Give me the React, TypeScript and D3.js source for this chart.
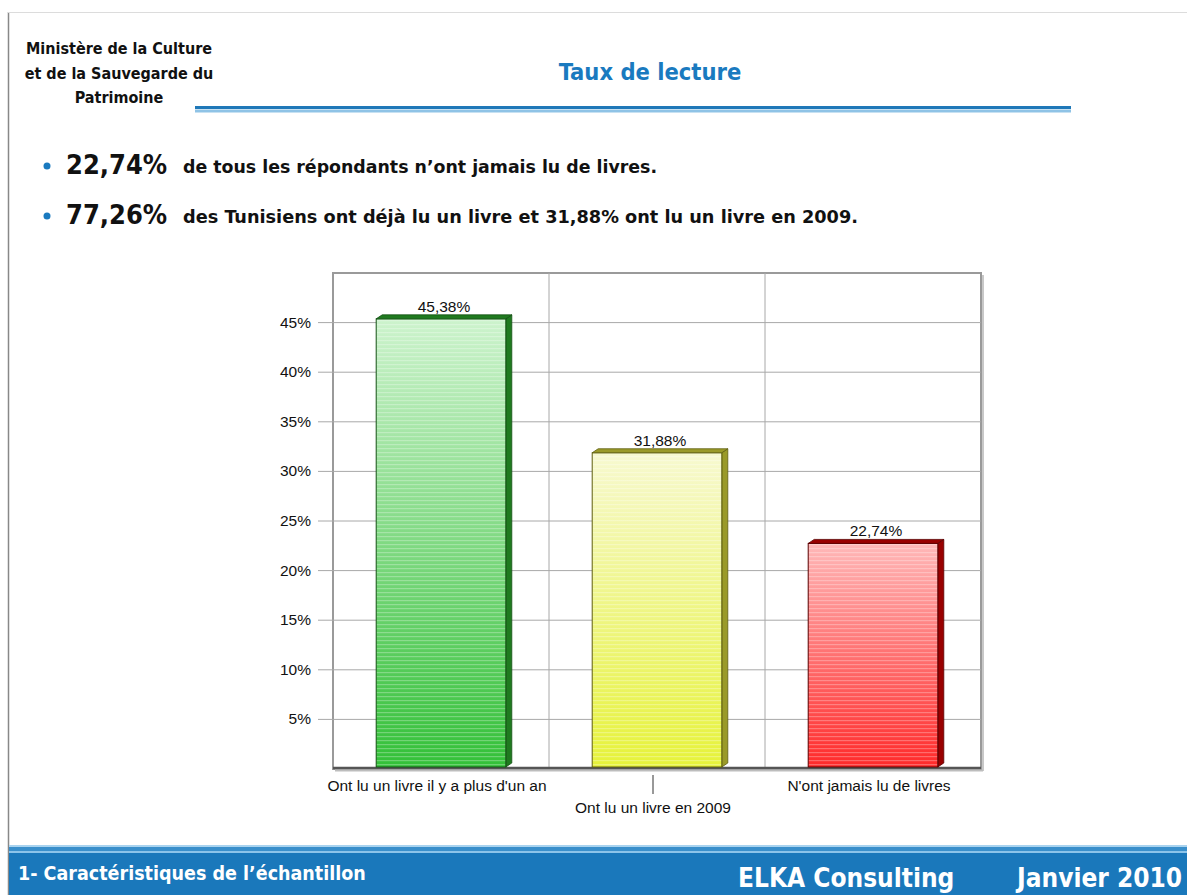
import * as d3 from 'd3'

const categories = ['Ont lu un livre il y a plus d\'un an', 'Ont lu un livre en 2009', 'N\'ont jamais lu de livres']
const values = [45.38, 31.88, 22.74]
const valueLabels = ['45,38%', '31,88%', '22,74%']
const yTicks = [5, 10, 15, 20, 25, 30, 35, 40, 45]

const headerLines = ['Ministère de la Culture', 'et de la Sauvegarde du', 'Patrimoine']
const bullets = [
  { big: '22,74%', rest: 'de tous les répondants n\u2019ont jamais lu de livres.', width: 474 },
  { big: '77,26%', rest: 'des Tunisiens ont déjà lu un livre et 31,88% ont lu un livre en 2009.', width: 675 }
]

const palette = [
  { top: '#cdf3cd', bottom: '#33c038', side: '#1f7a1f', edge: '#145214' },
  { top: '#f7f9d0', bottom: '#e6f23a', side: '#9a9a28', edge: '#5e5e10' },
  { top: '#ffb8b8', bottom: '#ff2a2a', side: '#990000', edge: '#5a0000' }
]

const W = 1187
const H = 895
const plot = { left: 333, right: 981, top: 273, bottom: 769 }
const depth = { dx: 6, dy: 4 }

const boldFont = '"DejaVu Sans Condensed", "DejaVu Sans", sans-serif'
const chartFont = '"Liberation Sans", Arial, sans-serif'
const blue = '#1a7abf'

export default function App() {
  const x = d3.scaleBand<string>()
    .domain(categories)
    .range([plot.left, plot.right])
    .paddingInner(0.4)
    .paddingOuter(0.2)

  const y = d3.scaleLinear()
    .domain([0, 50])
    .range([plot.bottom, plot.top])

  const step = x.step()
  const bw = x.bandwidth()
  const boundaries = d3.range(1, categories.length).map(i => plot.left + step * i)

  return (
    <svg width={W} height={H} style={{ position: 'absolute', left: 0, top: 0, background: '#fff' }}>
      <defs>
        {palette.map((p, i) => (
          <linearGradient key={i} id={`grad${i}`} x1="0" y1="0" x2="0" y2="1">
            <stop offset="0%" stopColor={p.top} />
            <stop offset="100%" stopColor={p.bottom} />
          </linearGradient>
        ))}
        <pattern id="stripes" width="4" height="4" patternUnits="userSpaceOnUse">
          <rect x="0" y="0" width="4" height="1.2" fill="#ffffff" opacity="0.28" />
        </pattern>
      </defs>

      {/* page frame */}
      <line x1={8.5} y1={12} x2={8.5} y2={H} stroke="#888" strokeWidth={1.5} />
      <line x1={8} y1={12.5} x2={W} y2={12.5} stroke="#dcdcdc" strokeWidth={1} />

      {/* header */}
      {headerLines.map((t, i) => (
        <text key={t} x={119} y={54 + i * 24.5} textAnchor="middle"
          fontFamily={boldFont} fontWeight="bold" fontSize={16} fill="#111">{t}</text>
      ))}
      <text x={650} y={80} textAnchor="middle" fontFamily={boldFont} fontWeight="bold"
        fontSize={23.5} fill={blue}>Taux de lecture</text>
      <rect x={195} y={106} width={876} height={3} fill="#1f78b8" />
      <rect x={195} y={109.5} width={876} height={3} fill="#8fc3e6" />

      {/* bullets */}
      {bullets.map((b, i) => (
        <g key={b.big}>
          <circle cx={47} cy={166 + i * 50} r={3.5} fill={blue} />
          <text x={66} y={174 + i * 50} fontFamily={boldFont} fontWeight="bold" fontSize={27} fill="#111">{b.big}</text>
          <text x={183} y={173 + i * 50} fontFamily={boldFont} fontWeight="bold" fontSize={18.5}
            textLength={b.width} lengthAdjust="spacingAndGlyphs" fill="#111">{b.rest}</text>
        </g>
      ))}

      {/* plot frame + grid */}
      <rect x={plot.left} y={plot.top} width={plot.right - plot.left} height={plot.bottom - plot.top}
        fill="#fff" stroke="#9a9a9a" strokeWidth={2} />
      {yTicks.map(t => (
        <g key={t}>
          <line x1={318} x2={plot.right} y1={y(t)} y2={y(t)} stroke="#a8a8a8" strokeWidth={1} />
          <text x={311} y={y(t) + 5} textAnchor="end" fontFamily={chartFont} fontSize={15.5} fill="#111">{t}%</text>
        </g>
      ))}
      {boundaries.map(bx => (
        <line key={bx} x1={bx} x2={bx} y1={plot.top} y2={plot.bottom} stroke="#a8a8a8" strokeWidth={1} />
      ))}
      <line x1={plot.right + 2} x2={plot.right + 2} y1={plot.top + 2} y2={plot.bottom + 2} stroke="#c8c8c8" strokeWidth={2} />
      <line x1={plot.left} x2={plot.right} y1={plot.bottom - 1} y2={plot.bottom - 1} stroke="#555" strokeWidth={2.5} />
      <line x1={plot.left + 2} x2={plot.right + 2} y1={plot.bottom + 1.5} y2={plot.bottom + 1.5} stroke="#bdbdbd" strokeWidth={2} />

      {/* bars */}
      {categories.map((c, i) => {
        const x0 = x(c) as number
        const yTop = y(values[i])
        const yBase = plot.bottom - 2
        const p = palette[i]
        const topFace = `M${x0},${yTop} L${x0 + bw},${yTop} L${x0 + bw + depth.dx},${yTop - depth.dy} L${x0 + depth.dx},${yTop - depth.dy} Z`
        const side = `M${x0 + bw},${yTop} L${x0 + bw + depth.dx},${yTop - depth.dy} L${x0 + bw + depth.dx},${yBase - depth.dy} L${x0 + bw},${yBase} Z`
        return (
          <g key={c}>
            <path d={side} fill={p.side} stroke={p.edge} strokeWidth={0.8} />
            <rect x={x0} y={yTop} width={bw} height={yBase - yTop} fill={`url(#grad${i})`} />
            <rect x={x0} y={yTop} width={bw} height={yBase - yTop} fill="url(#stripes)" />
            <rect x={x0} y={yTop} width={bw} height={yBase - yTop} fill="none" stroke={p.edge} strokeWidth={1} />
            <path d={topFace} fill={p.side} stroke={p.edge} strokeWidth={0.8} />
            <text x={x0 + bw / 2 + depth.dx / 2} y={yTop - 7} textAnchor="middle"
              fontFamily={chartFont} fontSize={15.5} fill="#111">{valueLabels[i]}</text>
          </g>
        )
      })}

      {/* category labels (staggered) */}
      {categories.map((c, i) => {
        const cx = (x(c) as number) + bw / 2 - 4
        const low = i % 2 === 1
        return (
          <g key={c}>
            {low && <line x1={cx} x2={cx} y1={775} y2={794} stroke="#333" strokeWidth={1} />}
            <text x={cx} y={low ? 813 : 791} textAnchor="middle" fontFamily={chartFont} fontSize={15.5} fill="#111">{c}</text>
          </g>
        )
      })}

      {/* footer */}
      <rect x={9} y={845} width={W} height={2} fill="#a9d3ef" />
      <rect x={9} y={847} width={W} height={4} fill="#3a8fcb" />
      <rect x={9} y={851} width={W} height={2} fill="#8cc4ea" />
      <rect x={9} y={853} width={W} height={H - 853} fill="#1a78bb" />
      <text x={18} y={880} fontFamily={boldFont} fontWeight="bold" fontSize={19.5} fill="#fff">1- Caractéristiques de l{'\u2019'}échantillon</text>
      <text x={738} y={887} fontFamily={boldFont} fontWeight="bold" fontSize={26} fill="#fff">ELKA Consulting</text>
      <text x={1017} y={887} fontFamily={boldFont} fontWeight="bold" fontSize={26} fill="#fff">Janvier 2010</text>
    </svg>
  )
}
